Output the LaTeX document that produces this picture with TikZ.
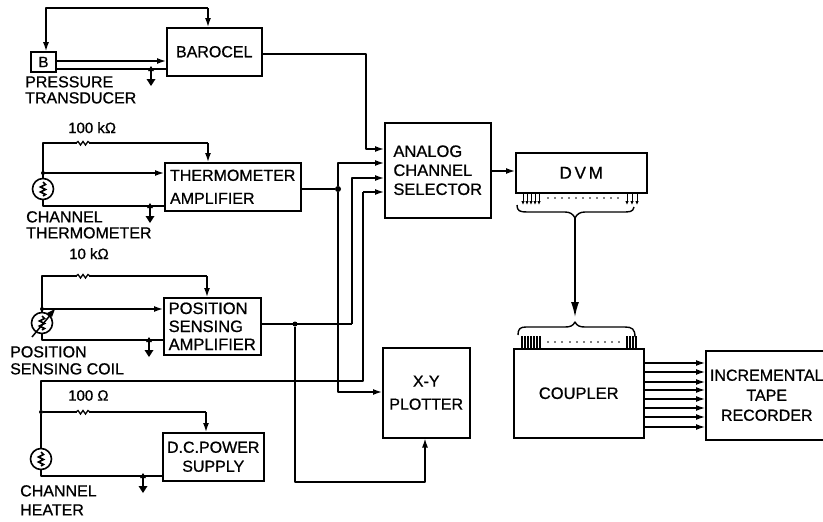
\documentclass[tikz,border=0pt]{standalone}
\usepackage{fontspec}
\setmainfont[FakeBold=0.8]{Liberation Sans}
\usetikzlibrary{arrows.meta,calc}
\tikzset{
  x=1pt,y=-1pt,
  wire/.style={line width=1.4pt,line join=round},
  arr/.style={wire,-{Latex[length=9pt,width=6pt]}},
  tiny/.style={line width=1pt,-{Latex[length=4pt,width=3.5pt]}},
  box/.style={draw,line width=1.5pt,inner sep=0pt,anchor=north west,align=center},
  lab/.style={inner sep=0pt,align=left,anchor=north west,font=\fontsize{16}{16}\selectfont},
  dot/.style={circle,fill,inner sep=0pt,minimum size=6pt},
  smalldot/.style={circle,fill,inner sep=0pt,minimum size=4pt},
  gaugecirc/.style={circle,draw,line width=1.6pt,inner sep=0pt,minimum size=21pt},
  gnd/.pic={\draw[line width=1.4pt] (0,-2)--(0,16);\fill (-4.5,10)--(4.5,10)--(0,17)--cycle;\fill(-3,2)--(3,2)--(0,-3)--cycle;},
}
\newcommand{\resist}[1]{\draw[white,line width=2.5pt] ($(#1)+(-6,0)$)--++(12,0);\draw[line width=1.3pt] ($(#1)+(-7,0)$)--++(2,-1.5)--++(2.5,3.5)--++(2.5,-3.5)--++(2.5,3.5)--++(2.5,-3.5)--++(2,1.5);}
\newcommand{\zig}[1]{\draw[line width=1.6pt] ($(#1)+(0,-7)$)--++(2.5,2.5)--++(-5,2.5)--++(5,2.5)--++(-5,2.5)--++(5,2.5)--++(-2.5,1.5);}
\begin{document}
\begin{tikzpicture}
\useasboundingbox (0,0) rectangle (823,522);
% boxes
\node[box,minimum width=95pt,minimum height=48pt,font=\fontsize{16}{16}\selectfont] (baro) at (166,27) {BAROCEL};
\node[box,minimum width=136pt,minimum height=48pt,align=left,font=\fontsize{16}{23}\selectfont] (therm) at (164,162) {THERMOMETER\\AMPLIFIER};
\node[box,minimum width=97pt,minimum height=57pt,align=left,font=\fontsize{16.5}{18}\selectfont] (pos) at (163,297) {POSITION\\SENSING\\AMPLIFIER};
\node[box,minimum width=101pt,minimum height=48pt,font=\fontsize{16}{19}\selectfont] (dc) at (162,432) {D.C.POWER\\SUPPLY};
\node[box,minimum width=106pt,minimum height=95pt,align=left,font=\fontsize{16.5}{19}\selectfont] (acs) at (384,122) {ANALOG\\CHANNEL\\SELECTOR};
\node[box,minimum width=87pt,minimum height=90pt,font=\fontsize{16}{23}\selectfont] (xy) at (382,347) {X-Y\\PLOTTER};
\node[box,minimum width=131pt,minimum height=40pt,font=\fontsize{17}{17}\selectfont] (dvm) at (515,152) {D\,V\,M};
\node[box,minimum width=130pt,minimum height=89pt,font=\fontsize{16.5}{17}\selectfont] (coup) at (513,348) {COUPLER};
\node[box,minimum width=122pt,minimum height=89pt,font=\fontsize{16}{20}\selectfont] (tape) at (705,350) {INCREMENTAL\\TAPE\\RECORDER};
\node[draw,line width=1.6pt,minimum width=25pt,minimum height=20pt,inner sep=0pt,font=\fontsize{15}{15}\selectfont] (b) at (43.5,62) {B};
% labels
\node[lab] (l1) at (25,76) {PRESSURE\\TRANSDUCER};
\node[lab,font=\fontsize{15}{15}\selectfont] (l2) at (68,122) {100 kΩ};
\node[lab] (l3) at (26,211) {CHANNEL\\THERMOMETER};
\node[lab,font=\fontsize{15}{15}\selectfont] (l4) at (69,248) {10 kΩ};
\node[lab] (l5) at (10,346) {POSITION\\[1pt]SENSING COIL};
\node[lab,font=\fontsize{15}{15}\selectfont] (l6) at (68,390) {100 Ω};
\node[lab,font=\fontsize{16}{19}\selectfont] (l7) at (20,485) {CHANNEL\\HEATER};
% pressure transducer wiring
\coordinate (t1) at (46,8);
\coordinate (t2) at (208,8);
\draw[arr] (t2)--(t1)--(b.north-|t1);
\draw[arr] (t2)--(baro.north-|t2);
\draw[arr] (b.east|-0,61)--(baro.west|-0,61);
\draw[wire] (b.east|-0,69)--(baro.west|-0,69);
\pic at (151,69) {gnd};
\coordinate (c1) at (366,54);
\coordinate (c2) at (366,149);
\draw[arr] (baro.east|-c1)--(c1)--(c2)--(acs.west|-c2);
% thermometer
\node[gaugecirc] (g1) at (43,189) {};\zig{g1}
\coordinate (r1) at (83,143);
\coordinate (c3) at (43,143);
\coordinate (c4) at (208,143);
\coordinate (c5) at (43,173);
\coordinate (c6) at (43,206);
\draw[wire] (g1.north)--(c3)--(c4);
\draw[arr] (c4)--(therm.north-|c4);
\draw[arr] (c5)--(therm.west|-c5);
\draw[wire] (g1.south)--(c6)--(therm.west|-c6);
\resist{r1}
\pic at (150,206) {gnd};
\node[smalldot] (dt) at (c5) {};
% therm amp output
\node[dot] (d1) at (338,189) {};
\coordinate (c7) at (338,163);
\coordinate (c8) at (338,392);
\draw[wire] (therm.east|-d1)--(d1);
\draw[arr] (d1)--(c7)--(acs.west|-c7);
\draw[arr] (d1)--(c8)--(xy.west|-c8);
% position coil
\node[gaugecirc] (g2) at (42,323) {};\zig{g2}
\draw[line width=1.5pt] (32,337)--(52,313);
\fill (55,309)--(47,313)--(52,317)--cycle;
\coordinate (r2) at (83,276);
\coordinate (c9) at (42,276);
\coordinate (c10) at (207,276);
\coordinate (c11) at (42,309);
\coordinate (c12) at (42,340);
\draw[wire] (g2.north)--(c9)--(c10);
\draw[arr] (c10)--(pos.north-|c10);
\draw[arr] (c11)--(pos.west|-c11);
\draw[wire] (g2.south)--(c12)--(pos.west|-c12);
\resist{r2}
\pic at (149,340) {gnd};
\node[smalldot] (dp) at (c11) {};
% pos amp output
\node[smalldot,minimum size=5pt] (d2) at (295,324) {};
\coordinate (c13) at (352,324);
\coordinate (c14) at (352,178);
\coordinate (c15) at (295,482);
\coordinate (c16) at (425,482);
\draw[wire] (pos.east|-d2)--(c13);
\draw[arr] (c13)--(c14)--(acs.west|-c14);
\draw[arr] (d2)--(c15)--(c16)--(xy.south-|c16);
% heater
\node[gaugecirc] (g3) at (41,459) {};\zig{g3}
\node[smalldot] (d3) at (41,412) {};
\coordinate (c17) at (41,381);
\coordinate (c18) at (363,381);
\coordinate (c19) at (363,192);
\coordinate (c20) at (41,476);
\coordinate (r3) at (83,412);
\coordinate (c21) at (206,412);
\draw[wire] (g3.north)--(d3)--(c17)--(c18)--(c19);
\draw[arr] (c19)--(acs.west|-c19);
\draw[wire] (d3)--(c21);
\draw[arr] (c21)--(dc.north-|c21);
\draw[wire] (g3.south)--(c20)--(dc.west|-c20);
\resist{r3}
\pic at (143,476) {gnd};
% acs -> dvm
\coordinate (c22) at (500,171);
\draw[arr] (acs.east|-c22)--(dvm.west|-c22);
% dvm pins
\foreach \x in {523,527,531,535,539,627,632,637}{\draw[tiny] (\x,192)--(\x,205);}
\foreach \x in {548,555,562,569,576,583,590,597,604,611,618}{\fill (\x,198) circle (.8pt);}
\coordinate (br) at (575,218);
\coordinate (bc) at (575,322);
\draw[wire] (517,205) .. controls (517,211) and (520,212) .. (527,212)--(565,212) .. controls (570,212) and (573,214) .. (br) .. controls (577,214) and (580,212) .. (585,212)--(622,212) .. controls (630,212) and (633,212) .. (634,207);
\draw[wire,-{Latex[length=15pt,width=8pt]}] (br)--(575,317);
\draw[wire] (518,335) .. controls (518,329) and (520,327) .. (526,327)--(565,327) .. controls (570,327) and (573,326) .. (bc) .. controls (577,326) and (580,327) .. (585,327)--(625,327) .. controls (632,327) and (635,329) .. (635,337);
\foreach \x in {522,525,528,531,534,537,540,627,630,633,636}{\draw[line width=1.6pt] (\x,336)--(\x,348);}
\foreach \x in {548,555,562,570,577,584,591,598,605,612,619}{\fill (\x,342) circle (.8pt);}
% coupler -> tape
\foreach \y [count=\i] in {363,372,382,390,399,408,417,427}{\coordinate (k\i) at (680,\y);\draw[arr,line width=1.3pt] (coup.east|-k\i)--(tape.west|-k\i);}
\end{tikzpicture}
\end{document}
